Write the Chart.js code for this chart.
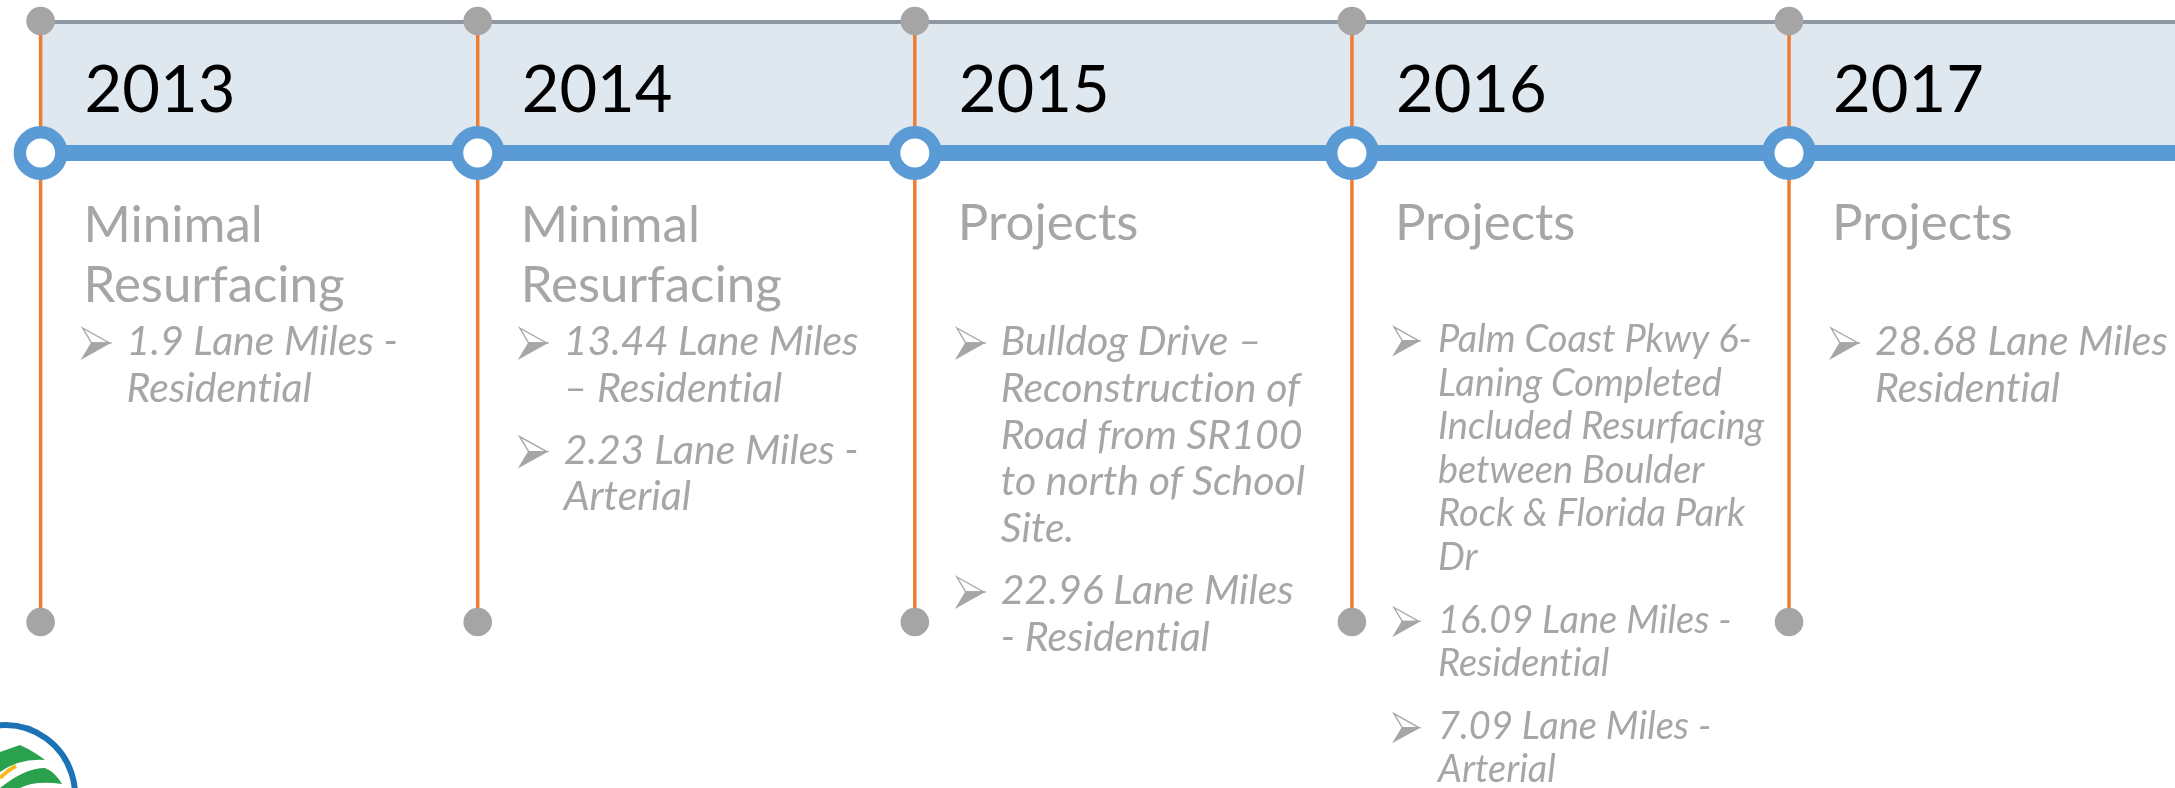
<!DOCTYPE html>
<html>
<head>
<meta charset="utf-8">
<script src="https://cdn.jsdelivr.net/npm/chart.js@4/dist/chart.umd.min.js"></script>
<style>
  html, body { margin: 0; padding: 0; background: #fff; }
  #wrap { width: 2175px; height: 788px; position: relative; }
</style>
</head>
<body>
<div id="wrap"><canvas id="chartView"></canvas></div>
<script>
// timeline data
var years = [2013, 2014, 2015, 2016, 2017];
var headings = [
    ['Minimal', 'Resurfacing'],
    ['Minimal', 'Resurfacing'],
    ['Projects'],
    ['Projects'],
    ['Projects']
];
var bullets2013 = [['1.9 Lane Miles -', 'Residential']];
var bullets2014 = [['13.44 Lane Miles', '\u2013 Residential'], ['2.23 Lane Miles -', 'Arterial']];
var bullets2015 = [['Bulldog Drive \u2013', 'Reconstruction of', 'Road from SR100', 'to north of School', 'Site.'],
                   ['22.96 Lane Miles', '- Residential']];
var bullets2016 = [['Palm Coast Pkwy 6-', 'Laning Completed', 'Included Resurfacing', 'between Boulder', 'Rock & Florida Park', 'Dr'],
                   ['16.09 Lane Miles -', 'Residential'],
                   ['7.09 Lane Miles -', 'Arterial']];
var bullets2017 = [['28.68 Lane Miles', 'Residential']];
var bullets = [bullets2013, bullets2014, bullets2015, bullets2016, bullets2017];

// layout / style (pixel rows on the y scale, which runs 0..788 top-down)
var TOP_Y = 21, RAIL_Y = 153, BOTTOM_Y = 622;
var X_MIN = 2012.9071, X_MAX = 2017.883;
var GRAY = '#a6a6a6';
var FONT = 'Lato, "Open Sans", sans-serif';
var fit = [1, 1, 1, 0.93, 1];   // 2016 text box is auto-shrunk in the original

function noLig(s) {
    // keep "ti"/"fi" from turning into ligatures
    return s.replace(/([tf])(?=[il])/g, '$1\u200C');
}

function drawArrow(ctx, x, y, s) {
    // wingdings-like 3d arrowhead
    ctx.save();
    ctx.translate(x, y);
    ctx.scale(s, s);
    ctx.beginPath();
    ctx.moveTo(0, 0); ctx.lineTo(27, 15); ctx.lineTo(9, 15); ctx.closePath();
    ctx.fillStyle = '#ffffff'; ctx.fill();
    ctx.strokeStyle = GRAY; ctx.lineWidth = 1.4; ctx.stroke();
    ctx.beginPath();
    ctx.moveTo(9, 15); ctx.lineTo(27, 15); ctx.lineTo(0, 30); ctx.closePath();
    ctx.fillStyle = GRAY; ctx.fill();
    ctx.stroke();
    ctx.restore();
}

function drawLogo(ctx) {
    ctx.save();
    ctx.beginPath();
    ctx.arc(5, 795, 70, Math.PI * 1.2, Math.PI * 2.1);
    ctx.strokeStyle = '#1b72b5'; ctx.lineWidth = 6; ctx.stroke();
    ctx.fillStyle = '#2aa24d';
    ctx.beginPath();
    ctx.moveTo(0, 752); ctx.lineTo(20, 745); ctx.quadraticCurveTo(35, 752, 45, 760);
    ctx.quadraticCurveTo(20, 758, 0, 772); ctx.closePath(); ctx.fill();
    ctx.beginPath();
    ctx.moveTo(0, 788); ctx.quadraticCurveTo(25, 768, 45, 768); ctx.quadraticCurveTo(55, 772, 62, 784);
    ctx.quadraticCurveTo(35, 780, 20, 788); ctx.closePath(); ctx.fill();
    ctx.strokeStyle = '#f6b81f'; ctx.lineWidth = 4;
    ctx.beginPath(); ctx.moveTo(0, 778); ctx.quadraticCurveTo(8, 770, 16, 766); ctx.stroke();
    ctx.restore();
}

var textPlugin = {
    id: 'timelineText',
    afterDatasetsDraw: function (chart) {
        var ctx = chart.ctx;
        var xs = chart.scales.x, ys = chart.scales.y;
        ctx.save();
        ctx.textBaseline = 'alphabetic';
        ctx.textAlign = 'left';
        years.forEach(function (yr, i) {
            var cx = xs.getPixelForValue(yr);
            // year label
            ctx.fillStyle = '#000000';
            ctx.font = '65px ' + FONT;
            ctx.fillText(String(yr), cx + 44, ys.getPixelForValue(112));
            // heading
            ctx.fillStyle = GRAY;
            ctx.font = '51px ' + FONT;
            var hBase = headings[i].length > 1 ? 242 : 240;
            headings[i].forEach(function (t, k) {
                ctx.fillText(t, cx + 43, ys.getPixelForValue(hBase + k * 60));
            });
            // bullets
            var f = fit[i];
            var lh = f < 1 ? 43.6 : 46.8;
            var base = f < 1 ? 352 : 355;
            ctx.font = 'italic ' + Math.round(41 * f) + 'px ' + FONT;
            bullets[i].forEach(function (b) {
                drawArrow(ctx, cx + 42, ys.getPixelForValue(base - 27 * f), f);
                b.forEach(function (line) {
                    ctx.fillStyle = GRAY;
                    ctx.fillText(noLig(line), cx + 86, ys.getPixelForValue(base));
                    base += lh;
                });
                base += (f < 1 ? 19 : 15);
            });
        });
        drawLogo(ctx);
        ctx.restore();
    }
};

var verticals = years.map(function (yr) {
    return {
        type: 'line',
        data: [{x: yr, y: TOP_Y}, {x: yr, y: BOTTOM_Y}],
        borderColor: '#ed7d31',
        borderWidth: 3.5,
        pointRadius: 0,
        clip: false,
        order: 2
    };
});

var dots = [];
years.forEach(function (yr) {
    dots.push({x: yr, y: TOP_Y});
    dots.push({x: yr, y: BOTTOM_Y});
});

var ctx = document.getElementById('chartView').getContext('2d');
new Chart(ctx, {
    type: 'scatter',
    data: {
        datasets: [
            {
                // year nodes on the rail
                data: years.map(function (yr) { return {x: yr, y: RAIL_Y}; }),
                pointRadius: 20.75,
                pointBorderWidth: 12.5,
                pointBorderColor: '#5b9bd5',
                pointBackgroundColor: '#ffffff',
                clip: false,
                order: 0
            },
            {
                data: dots,
                pointRadius: 14.3,
                pointBorderWidth: 0,
                pointBackgroundColor: '#a5a5a5',
                clip: false,
                order: 1
            }
        ].concat(verticals).concat([
            {
                // blue rail
                type: 'line',
                data: [{x: years[0], y: RAIL_Y}, {x: X_MAX, y: RAIL_Y}],
                borderColor: '#5b9bd5',
                borderWidth: 16,
                pointRadius: 0,
                clip: false,
                order: 3
            },
            {
                // header band with gray top rule
                type: 'line',
                data: [{x: years[0], y: TOP_Y + 1}, {x: X_MAX, y: TOP_Y + 1}],
                borderColor: '#8e98a2',
                borderWidth: 4,
                backgroundColor: '#dfe7ef',
                fill: {value: RAIL_Y},
                pointRadius: 0,
                clip: false,
                order: 4
            }
        ])
    },
    options: {
        responsive: true,
        maintainAspectRatio: false,
        animation: false,
        layout: {padding: 0, autoPadding: false},
        plugins: {legend: {display: false}, tooltip: {enabled: false}},
        scales: {
            x: {type: 'linear', min: X_MIN, max: X_MAX, display: false},
            y: {type: 'linear', min: 0, max: 788, reverse: true, display: false}
        }
    },
    plugins: [textPlugin]
});
</script>
</body>
</html>
